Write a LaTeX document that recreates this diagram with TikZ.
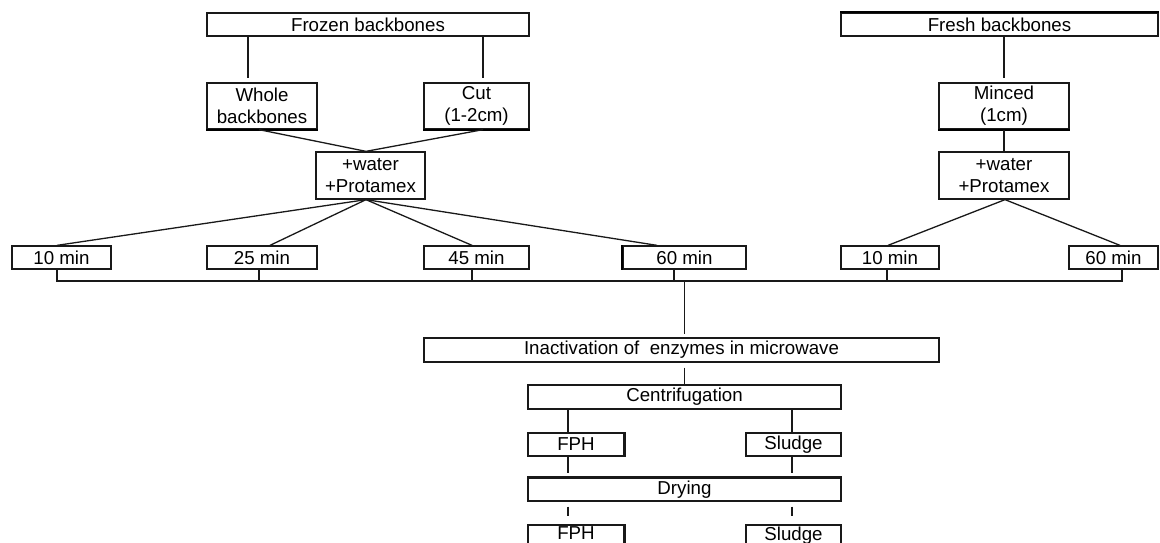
\documentclass[tikz,border=0pt]{standalone}
\usepackage{fontspec}
\setmainfont{Liberation Sans}
\begin{document}
\begin{tikzpicture}[x=1pt,y=-1pt,
  box/.style={draw=black!90, line width=1.3pt, rectangle, inner sep=0pt, align=center,
    font=\fontsize{18.7}{22}\selectfont, minimum height=23pt},
  lbl/.style={inner sep=0pt, font=\fontsize{18.7}{22}\selectfont},
  conn/.style={draw=black!90, line width=1.3pt},
  heavy/.style={draw=black!90, line width=2.6pt}]
\useasboundingbox (0,0) rectangle (1160,543);
% top level
\node[box, minimum width=322pt] (frozen) at (368,24.5) {Frozen backbones};
\node[box, minimum width=317pt] (fresh) at (999.5,24.5) {Fresh backbones};
% second level
\node[box, minimum width=110pt, minimum height=46pt] (whole) at (262,106) {Whole\\backbones};
\node[box, minimum width=105pt, minimum height=46pt] (cut) at (476.5,106) {Cut\\(1-2cm)};
\node[box, minimum width=130pt, minimum height=46pt] (minced) at (1004,106) {Minced\\(1cm)};
% enzyme addition
\node[box, minimum width=109pt, minimum height=47pt] (water1) at (370.5,175.5) {+water\\+Protamex};
\node[box, minimum width=130pt, minimum height=47pt] (water2) at (1004,175.5) {+water\\+Protamex};
% times
\node[box, minimum width=99pt] (t10) at (61.5,257.5) {10 min};
\node[box, minimum width=110pt] (t25) at (262,257.5) {25 min};
\node[box, minimum width=105pt] (t45) at (476.5,257.5) {45 min};
\node[box, minimum width=123pt] (t60) at (684.5,257.5) {60 min};
\node[box, minimum width=98pt] (f10) at (890,257.5) {10 min};
\node[box, minimum width=89pt] (f60) at (1113.5,257.5) {60 min};
% processing
\node[box, minimum width=515pt, minimum height=24pt] (inact) at (681.5,350) {Inactivation of \ enzymes in microwave};
\node[box, minimum width=313pt, minimum height=24pt] (centr) at (684.5,397) {Centrifugation};
\node[box, minimum width=96pt] (fph1) at (576,444.5) {FPH};
\node[box, minimum width=95pt] (sl1) at (793.5,444.5) {Sludge};
\node[box, minimum width=313pt] (dry) at (684.5,489.5) {Drying};
\node[box, minimum width=96pt] (fph2) at (576,536.5) {};
\node[box, minimum width=95pt] (sl2) at (793.5,536.5) {};
\node[lbl] (fph2t) at (576,533.5) {FPH};
\node[lbl, anchor=base] (sl2t) at (793.5,540) {Sludge};
% heavier edges as printed
\draw[heavy] (dry.north west) -- (dry.north east);
\draw[heavy] (fph1.north east) -- (fph1.south east);
\draw[heavy] (fph2.north east) -- (fph2.south east);
\draw[line width=2pt] (whole.south west) -- (whole.south east);
\draw[line width=2pt] (cut.south west) -- (cut.south east);
\draw[line width=2pt] (minced.south west) -- (minced.south east);
\draw[line width=2pt] (t60.north west) -- (t60.south west);
\draw[line width=2pt] (fresh.north west) -- (fresh.north east);
% connectors: frozen branch
\draw[conn, shorten >=4pt] ([xshift=-14pt]whole.north |- frozen.south) -- ([xshift=-14pt]whole.north);
\draw[conn, shorten >=4pt] ([xshift=6.5pt]cut.north |- frozen.south) -- ([xshift=6.5pt]cut.north);
\coordinate (w1in) at ([xshift=-4.5pt]water1.north);
\coordinate (w1out) at ([xshift=-4.5pt]water1.south);
\draw[conn] ([xshift=-3pt]whole.south) -- (w1in);
\draw[conn] ([xshift=6.5pt]cut.south) -- (w1in);
\draw[conn] (w1out) -- ([xshift=-4.5pt]t10.north);
\draw[conn] (w1out) -- ([xshift=8pt]t25.north);
\draw[conn] (w1out) -- ([xshift=-4.5pt]t45.north);
\draw[conn] (w1out) -- ([xshift=-27.5pt]t60.north);
% fresh branch
\draw[conn, shorten >=4pt] (fresh.south -| minced.north) -- (minced.north);
\draw[conn] (minced.south) -- (water2.north);
\coordinate (w2out) at ([xshift=1pt]water2.south);
\draw[conn] (w2out) -- ([xshift=-2pt]f10.north);
\draw[conn] (w2out) -- ([xshift=6.5pt]f60.north);
% collecting bus
\coordinate (busy) at (0,281);
\draw[conn] ([xshift=-4.5pt]t10.south) -- ([xshift=-4.5pt]t10.south |- busy)
  -- ([xshift=8.5pt]f60.south |- busy) -- ([xshift=8.5pt]f60.south);
\draw[conn] ([xshift=-3pt]t25.south) -- ([xshift=-3pt]t25.south |- busy);
\draw[conn] ([xshift=-4.5pt]t45.south) -- ([xshift=-4.5pt]t45.south |- busy);
\draw[conn] ([xshift=-10.5pt]t60.south) -- ([xshift=-10.5pt]t60.south |- busy);
\draw[conn] ([xshift=-3pt]f10.south) -- ([xshift=-3pt]f10.south |- busy);
\draw[conn, shorten >=3pt] (centr.north |- busy) -- (centr.north |- inact.north);
\draw[conn, shorten <=5pt] (centr.north |- inact.south) -- (centr.north);
% separation and drying
\draw[conn] ([xshift=-8pt]fph1.north |- centr.south) -- ([xshift=-8pt]fph1.north);
\draw[conn] ([xshift=-1.5pt]sl1.north |- centr.south) -- ([xshift=-1.5pt]sl1.north);
\draw[conn, shorten >=4pt] ([xshift=-8pt]fph1.south) -- ([xshift=-8pt]fph1.south |- dry.north);
\draw[conn, shorten >=4pt] ([xshift=-1.5pt]sl1.south) -- ([xshift=-1.5pt]sl1.south |- dry.north);
\draw[conn, shorten <=5pt, shorten >=8pt] ([xshift=-8pt]fph2.north |- dry.south) -- ([xshift=-8pt]fph2.north);
\draw[conn, shorten <=5pt, shorten >=8pt] ([xshift=-1.5pt]sl2.north |- dry.south) -- ([xshift=-1.5pt]sl2.north);
\end{tikzpicture}
\end{document}
